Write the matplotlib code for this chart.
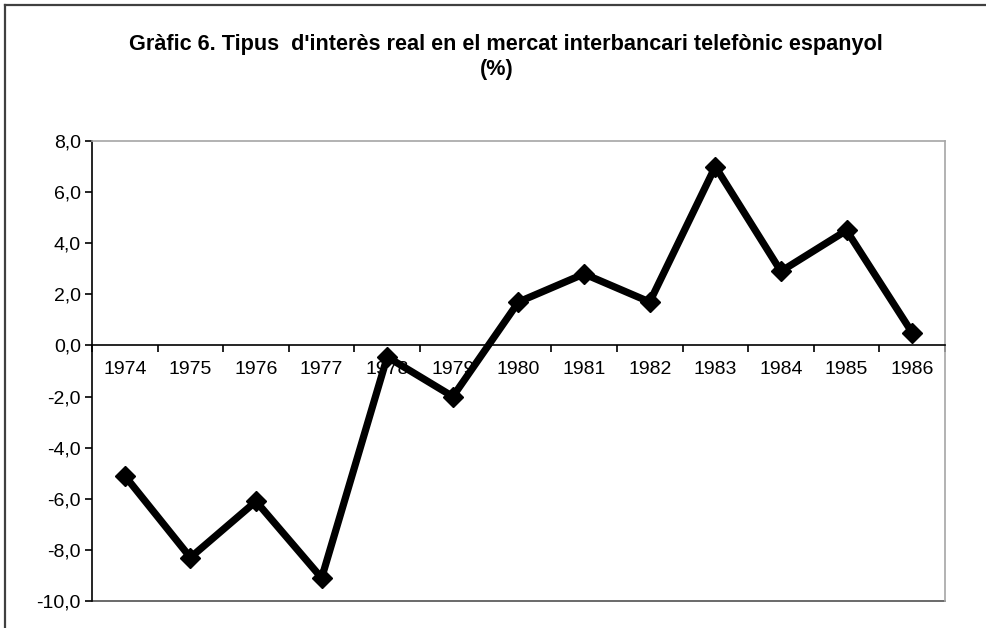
import matplotlib
matplotlib.use("Agg")
from matplotlib import pyplot as plt
from matplotlib.lines import Line2D
import numpy as np

plt.rcParams['font.family'] = ['Liberation Sans', 'DejaVu Sans']

# dades
anys = ['1974', '1975', '1976', '1977', '1978', '1979', '1980',
        '1981', '1982', '1983', '1984', '1985', '1986']
tipus_real = [-5.1, -8.3, -6.1, -9.1, -0.45, -2.0, 1.7,
              2.8, 1.7, 7.0, 2.9, 4.5, 0.5]
y_ticks = [-10, -8, -6, -4, -2, 0, 2, 4, 6, 8]
titol = "Gràfic 6. Tipus  d'interès real en el mercat interbancari telefònic espanyol"
subtitol = "(%)"

fig = plt.figure(figsize=(9.87, 6.28), dpi=100)
ax = fig.add_axes([0.0932, 0.0430, 0.8642, 0.7325])

x = np.arange(len(anys))
ax.plot(x, tipus_real, color='black', linewidth=5.2, marker='D',
        markersize=10.5, solid_joinstyle='miter', zorder=5)

ax.set_xlim(-0.5, len(anys) - 0.5)
ax.set_ylim(-10, 8)

# eix x a zero, amb marques entre categories
ax.spines['bottom'].set_position(('data', 0))
ax.spines['bottom'].set_color('black')
ax.spines['bottom'].set_linewidth(1.2)
ax.spines['left'].set_color('black')
ax.spines['left'].set_linewidth(1.2)
for s in ['top', 'right']:
    ax.spines[s].set_color('#a6a6a6')
    ax.spines[s].set_linewidth(1.2)
# vora inferior de l'àrea del gràfic
ax.add_line(Line2D([0, 1], [0, 0], transform=ax.transAxes,
                   color='#505050', linewidth=1.2, clip_on=False))

ax.set_xticks(x)
ax.set_xticklabels(anys)
ax.set_xticks(np.arange(len(anys) + 1) - 0.5, minor=True)
ax.tick_params(axis='x', which='major', length=0, pad=11, labelsize=14)
ax.tick_params(axis='x', which='minor', length=5, width=1.2, direction='out',
               color='black')

ax.set_yticks(y_ticks)
ax.set_yticklabels([f"{v:.1f}".replace('.', ',') for v in y_ticks])
ax.tick_params(axis='y', length=5, width=1.2, direction='out', pad=3,
               labelsize=14, color='black')

fig.text(0.513, 0.929, titol, ha='center', va='center',
         fontsize=15.6, fontweight='bold')
fig.text(0.503, 0.889, subtitol, ha='center', va='center',
         fontsize=15.6, fontweight='bold')

# marc del gràfic
fig.add_artist(Line2D([0.0055, 0.0055], [0, 0.992], transform=fig.transFigure,
                      color='#404040', linewidth=1.6))
fig.add_artist(Line2D([0.0055, 1], [0.992, 0.992], transform=fig.transFigure,
                      color='#404040', linewidth=1.6))

plt.savefig('out.png', dpi=100)
